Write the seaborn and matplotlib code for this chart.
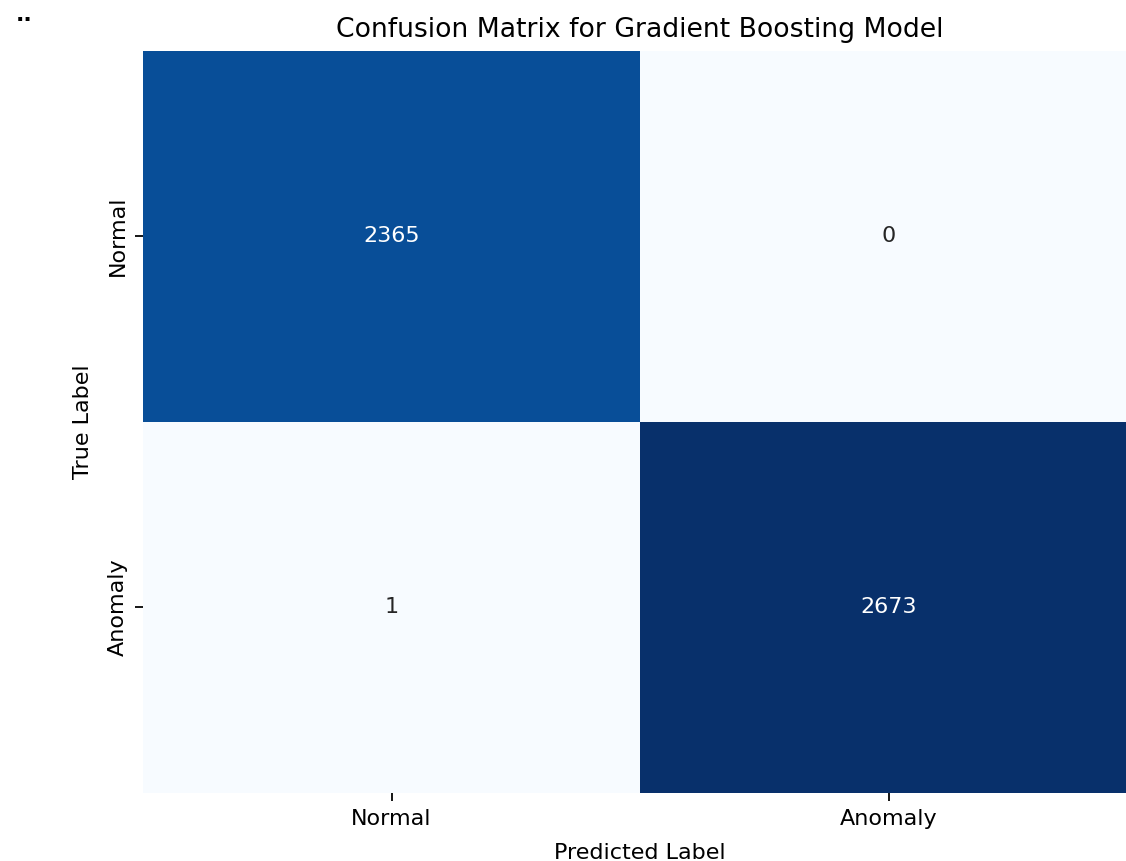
import numpy as np
import matplotlib
matplotlib.use('Agg')
import matplotlib.pyplot as plt
import seaborn as sns

# 혼동행렬 값
labels = ['Normal', 'Anomaly']
row_normal = [2365, 0]
row_anomaly = [1, 2673]
cm = np.array([row_normal, row_anomaly])

fig = plt.figure(figsize=(1126/160, 861/160), dpi=160)
ax = fig.add_axes([143/1126, (861-793)/861, (1137-143)/1126, (793-50.5)/861])
sns.heatmap(cm, annot=True, fmt='d', cmap='Blues', cbar=False,
            xticklabels=labels, yticklabels=labels, ax=ax)
ax.set_title('Confusion Matrix for Gradient Boosting Model')
ax.set_xlabel('Predicted Label', labelpad=6.5)
ax.set_ylabel('True Label', labelpad=6.5)
fig.text(16/1126, 1-15/861, '..', fontsize=10, fontweight='bold', va='center')
fig.savefig('out.png', dpi=160)
